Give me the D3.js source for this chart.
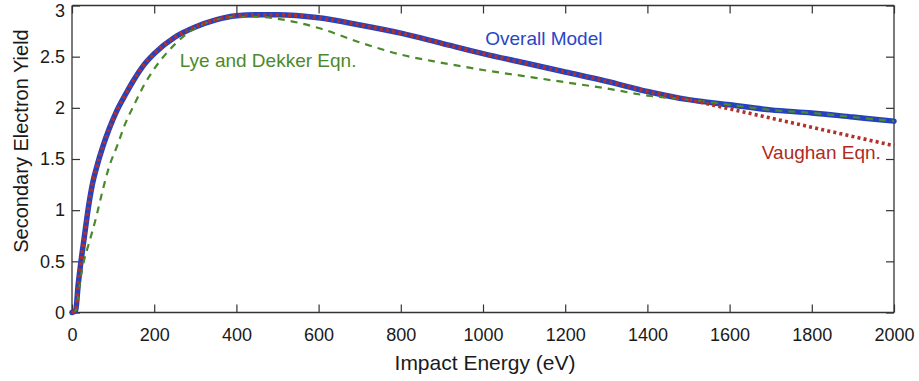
<!DOCTYPE html>
<html>
<head>
<meta charset="utf-8">
<script src="https://cdn.jsdelivr.net/npm/d3@7"></script>
<style>
  html, body { margin: 0; padding: 0; background: #fff; }
  svg { display: block; font-family: "Liberation Sans", Arial, Helvetica, sans-serif; }
</style>
</head>
<body>
<svg id="chart" width="919" height="381"></svg>
<script>
// Impact energy grid (eV)
const energy = [0, 9, 15, 20, 30, 40, 50, 60, 75, 90, 110, 130, 150, 175, 200, 250, 300, 350, 400, 450, 500, 600, 700, 800, 900, 1000, 1100, 1200, 1300, 1400, 1500, 1600, 1700, 1800, 1900, 2000];

// Secondary electron yield for each model
const overallModel = [0, 0.02, 0.27, 0.44, 0.74, 1.03, 1.26, 1.42, 1.62, 1.79, 1.98, 2.13, 2.27, 2.42, 2.53, 2.69, 2.79, 2.86, 2.90, 2.91, 2.91, 2.88, 2.81, 2.73, 2.63, 2.53, 2.44, 2.35, 2.26, 2.16, 2.08, 2.03, 1.98, 1.95, 1.91, 1.87];
const lyeDekker    = [0, 0.02, 0.16, 0.31, 0.52, 0.66, 0.80, 0.95, 1.20, 1.42, 1.63, 1.85, 2.02, 2.22, 2.38, 2.62, 2.78, 2.86, 2.89, 2.89, 2.87, 2.78, 2.64, 2.52, 2.44, 2.37, 2.31, 2.25, 2.19, 2.12, 2.08, 2.03, 1.98, 1.95, 1.91, 1.87];
const vaughan      = [0, 0.02, 0.27, 0.44, 0.74, 1.03, 1.26, 1.42, 1.62, 1.79, 1.98, 2.13, 2.27, 2.42, 2.53, 2.69, 2.79, 2.86, 2.90, 2.91, 2.91, 2.88, 2.81, 2.73, 2.63, 2.53, 2.44, 2.35, 2.26, 2.16, 2.08, 1.99, 1.90, 1.81, 1.72, 1.63];

const xTicks = [0, 200, 400, 600, 800, 1000, 1200, 1400, 1600, 1800, 2000];
const yTicks = [0, 0.5, 1, 1.5, 2, 2.5, 3];

const W = 919, H = 381;
const margin = { top: 5.5, right: 25, bottom: 68.5, left: 72 };
const iw = W - margin.left - margin.right;
const ih = H - margin.top - margin.bottom;

const svg = d3.select("#chart");
const g = svg.append("g").attr("transform", `translate(${margin.left},${margin.top})`);

const x = d3.scaleLinear().domain([0, 2000]).range([0, iw]);
const y = d3.scaleLinear().domain([0, 3]).range([ih, 0]);

const axisColor = "#333";
const tickLen = 8;

// Inward ticks on all four sides
const axB = g.append("g").attr("transform", `translate(0,${ih})`)
  .call(d3.axisBottom(x).tickValues(xTicks).tickSize(-tickLen).tickPadding(16).tickFormat(d3.format("d")));
const axT = g.append("g")
  .call(d3.axisTop(x).tickValues(xTicks).tickSize(-tickLen).tickFormat(""));
const axL = g.append("g")
  .call(d3.axisLeft(y).tickValues(yTicks).tickSize(-tickLen).tickPadding(7).tickFormat(d => d3.format("")(d)));
const axR = g.append("g").attr("transform", `translate(${iw},0)`)
  .call(d3.axisRight(y).tickValues(yTicks).tickSize(-tickLen).tickFormat(""));

[axB, axT, axL, axR].forEach(a => {
  a.select(".domain").attr("stroke", axisColor).attr("stroke-width", 1.3);
  a.selectAll(".tick line").attr("stroke", axisColor).attr("stroke-width", 1.2);
  a.selectAll(".tick text").attr("fill", "#1a1a1a").attr("font-size", 18)
    .attr("font-family", '"Liberation Sans", Arial, sans-serif');
});
// the top label sits at the very edge of the frame; nudge it down to stay visible
axL.selectAll(".tick text").filter(d => d === 3).attr("dy", "0.62em");

// clean box frame without outer tick caps
[axB, axT].forEach(a => a.select(".domain").attr("d", `M0.5,0H${iw}`));
[axL, axR].forEach(a => a.select(".domain").attr("d", `M0,0V${ih}`));

const series = (vals) => energy.map((e, i) => [e, vals[i]]);
const line = d3.line().x(d => x(d[0])).y(d => y(d[1])).curve(d3.curveMonotoneX);

const plot = g.append("g");

// Overall model: heavy solid blue
plot.append("path").datum(series(overallModel))
  .attr("d", line).attr("fill", "none")
  .attr("stroke", "#2641bd").attr("stroke-width", 5.5)
  .attr("stroke-linejoin", "round").attr("stroke-linecap", "round");

// Lye and Dekker: green dashed
plot.append("path").datum(series(lyeDekker))
  .attr("d", line).attr("fill", "none")
  .attr("stroke", "#4b8a2b").attr("stroke-width", 2.2)
  .attr("stroke-dasharray", "7,6");

// Vaughan: red dotted
plot.append("path").datum(series(vaughan))
  .attr("d", line).attr("fill", "none")
  .attr("stroke", "#b3302a").attr("stroke-width", 3.6)
  .attr("stroke-dasharray", "3,3.2");

// Curve labels
const labels = [
  { text: "Overall Model", e: 1148, v: 2.61, color: "#2a45c8", anchor: "middle" },
  { text: "Lye and Dekker Eqn.", e: 262, v: 2.40, color: "#4b8a2b", anchor: "start" },
  { text: "Vaughan Eqn.", e: 1968, v: 1.50, color: "#b02a22", anchor: "end" }
];
g.selectAll(".curve-label").data(labels).join("text")
  .attr("class", "curve-label")
  .attr("x", d => x(d.e)).attr("y", d => y(d.v))
  .attr("text-anchor", d => d.anchor)
  .attr("fill", d => d.color)
  .attr("font-size", 19)
  .text(d => d.text);

// Axis titles
svg.append("text")
  .attr("x", margin.left + iw / 2 + 2).attr("y", 370)
  .attr("text-anchor", "middle").attr("font-size", 21).attr("fill", "#1a1a1a")
  .text("Impact Energy (eV)");

svg.append("text")
  .attr("transform", "translate(28,141) rotate(-90)")
  .attr("text-anchor", "middle").attr("font-size", 20).attr("fill", "#1a1a1a")
  .text("Secondary Electron Yield");
</script>
</body>
</html>
